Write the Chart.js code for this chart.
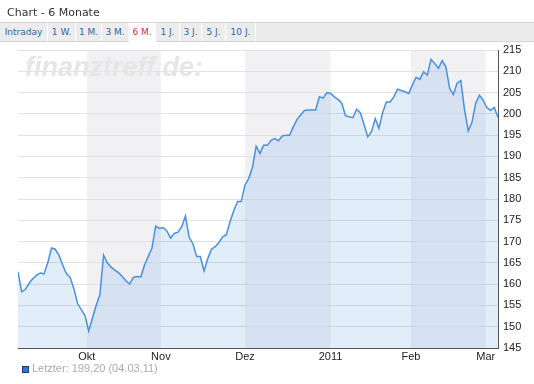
<!DOCTYPE html>
<html>
<head>
<meta charset="utf-8">
<script src="https://cdn.jsdelivr.net/npm/chart.js@4"></script>
<style>
  body { margin: 0; width: 534px; height: 384px; position: relative; overflow: hidden; background: #fff; }
  #title { position: absolute; left: 7px; top: 6px; font: 11px "DejaVu Sans", sans-serif; color: #333; }
  #tabs { position: absolute; left: 0; top: 22px; width: 534px; height: 18px; background: #ececec;
          border-top: 1px solid #d4d4d4; border-bottom: 1px solid #d4d4d4; display: flex; }
  #tabs span { display: block; height: 18px; text-align: center;
               font: 9px "DejaVu Sans", sans-serif; line-height: 18px; color: #2f66a8;
               background: #ececec; border-right: 1px solid #fff; }
  #tabs span.on { background: #fff; color: #d42b3a; height: 19px; }
  #legend { position: absolute; left: 22px; top: 362px; font: 11px "Liberation Sans", Arial, sans-serif; color: #aaa; }
  #legend i { display: inline-block; width: 5px; height: 5px; background: #2f78d8; border: 1px solid #1d3f70;
              margin-right: 3px; vertical-align: -1px; }
  #chart { position: absolute; left: 0; top: 0; }
</style>
</head>
<body>
<canvas id="chart" width="534" height="384"></canvas>
<div id="title">Chart - 6 Monate</div>
<div id="tabs"></div>
<div id="legend"><i></i>Letzter: 199,20 (04.03.11)</div>
<script>
// tabs above the chart
const tabNames = ['Intraday', '1 W.', '1 M.', '3 M.', '6 M.', '1 J.', '3 J.', '5 J.', '10 J.'];
const tabWidths = [48, 28, 26, 27, 27, 24, 22, 24, 30];
const activeTab = '6 M.';

// closing prices, one per trading day (Sep 2010 - 04.03.2011)
const prices = [
    162.9, 158.2, 158.8, 160.2, 161.3, 162.1, 162.6, 162.4, 165.0, 168.5,
    168.2, 166.8, 164.5, 162.5, 161.6, 159.0, 155.5, 154.0, 152.6, 149.0,
    152.0, 155.0, 157.5, 166.8, 165.0, 164.0, 163.3, 162.7, 161.8, 160.8,
    160.0, 161.6, 161.8, 161.7, 164.5, 166.5, 168.5, 173.6, 173.1, 173.3,
    172.5, 170.8, 171.9, 172.2, 173.5, 176.0, 171.0, 169.5, 166.5, 166.5,
    163.1, 166.0, 168.2, 168.8, 169.8, 171.1, 171.6, 174.7, 177.3, 179.4,
    179.4, 183.3, 184.8, 187.4, 192.4, 190.7, 192.6, 192.6, 193.8, 194.2,
    193.7, 194.8, 195.0, 195.0, 197.0, 198.7, 199.8, 200.8, 200.9, 200.9,
    200.9, 204.0, 203.7, 205.0, 204.8, 204.0, 203.4, 202.5, 199.6, 199.3,
    199.1, 201.1, 200.3, 197.5, 194.6, 195.8, 198.9, 196.6, 200.3, 202.8,
    202.8, 204.0, 205.8, 205.5, 205.2, 204.8, 206.8, 208.6, 208.1, 209.9,
    209.1, 212.8, 211.8, 210.7, 212.5, 211.0, 206.0, 204.5, 207.2, 207.8,
    201.0, 196.0, 198.0, 202.5, 204.4, 203.2, 201.5, 200.8, 201.5, 199.2
];

// month labels and where each month begins (in trading-day index)
const monthLabels = ['Okt', 'Nov', 'Dez', '2011', 'Feb', 'Mar'];
const monthStarts = [18.5, 38.4, 61, 84, 105.6, 125.7];

const yMin = 145;
const yMax = 215;
const yStep = 5;

const tabBar = document.getElementById('tabs');
tabNames.forEach((name, i) => {
    const s = document.createElement('span');
    s.textContent = name;
    s.style.width = (tabWidths[i] - 1) + 'px';
    if (name === activeTab) s.className = 'on';
    tabBar.appendChild(s);
});

// grey bands for every other month + watermark
const backdrop = {
    id: 'backdrop',
    beforeDatasetsDraw(chart) {
        const { ctx, chartArea, scales } = chart;
        ctx.save();
        ctx.fillStyle = 'rgba(228,228,234,0.5)';
        for (let i = 0; i + 1 < monthStarts.length; i += 2) {
            const x1 = scales.x.getPixelForValue(monthStarts[i]);
            const x2 = scales.x.getPixelForValue(monthStarts[i + 1]);
            ctx.fillRect(x1, chartArea.top, x2 - x1, chartArea.bottom - chartArea.top);
        }
        ctx.font = 'italic bold 27px "Liberation Sans", Arial, sans-serif';
        ctx.fillStyle = '#e6e6e6';
        ctx.fillText('finanztreff.de:', chartArea.left + 7, chartArea.top + 26);
        ctx.restore();
    }
};

new Chart(document.getElementById('chart'), {
    type: 'line',
    data: {
        datasets: [{
            data: prices.map((v, i) => ({ x: i, y: v })),
            borderColor: '#4a90e2',
            backgroundColor: 'rgba(74,144,226,0.16)',
            borderWidth: 1.5,
            pointRadius: 0,
            tension: 0,
            fill: 'start'
        }]
    },
    options: {
        responsive: false,
        animation: false,
        layout: { padding: { left: 18, top: 50, right: 0, bottom: 18 } },
        plugins: { legend: { display: false }, tooltip: { enabled: false } },
        scales: {
            x: {
                type: 'linear',
                min: 0,
                max: prices.length - 1,
                afterBuildTicks: (scale) => { scale.ticks = monthStarts.map(v => ({ value: v })); },
                afterFit: (scale) => { scale.height = 18; },
                grid: { display: false, drawTicks: false },
                border: { color: '#555', width: 1 },
                ticks: {
                    autoSkip: false,
                    maxRotation: 0,
                    padding: 2,
                    color: '#222',
                    font: { family: '"Liberation Sans", Arial, sans-serif', size: 11 },
                    callback: (v, i) => monthLabels[i]
                }
            },
            y: {
                position: 'right',
                min: yMin,
                max: yMax,
                afterFit: (scale) => { scale.width = 36; },
                grid: { color: '#e2e2e2', drawTicks: false },
                border: { color: '#555', width: 1 },
                ticks: {
                    stepSize: yStep,
                    padding: 5,
                    color: '#222',
                    font: { family: '"Liberation Sans", Arial, sans-serif', size: 11 }
                }
            }
        }
    },
    plugins: [backdrop]
});
</script>
</body>
</html>
